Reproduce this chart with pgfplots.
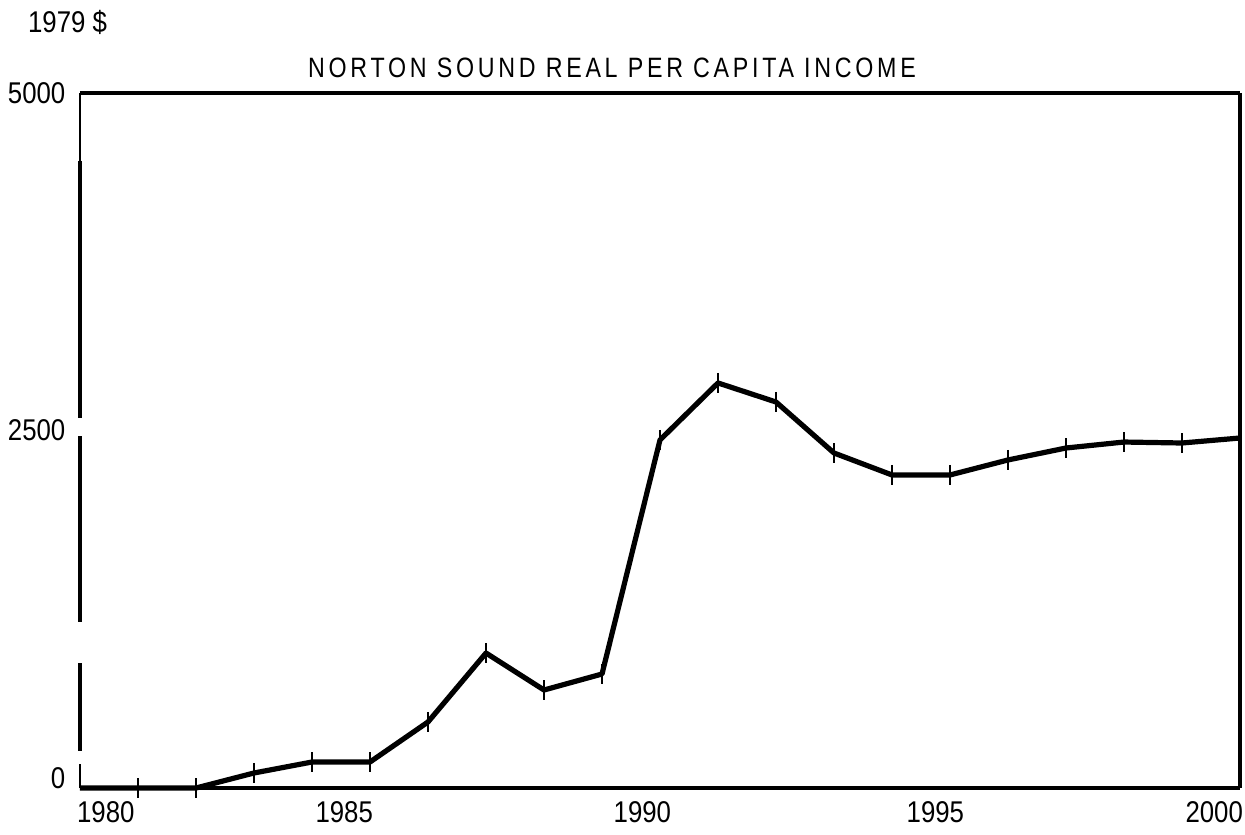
\documentclass[border=0pt]{standalone}
\usepackage{fontspec}
\setmainfont{Liberation Sans}
\newfontfamily\titlefont[LetterSpace=16]{Liberation Sans}
\usepackage{pgfplots}
\pgfplotsset{compat=1.18}

\pgfplotstableread{
year value
1980 0
1981 0
1982 0
1983 108
1984 187
1985 187
1986 475
1987 971
1988 705
1989 820
1990 2504
1991 2914
1992 2777
1993 2410
1994 2252
1995 2252
1996 2360
1997 2446
1998 2489
1999 2482
2000 2518
}\income

\begin{document}
\begin{tikzpicture}
\begin{axis}[
  scale only axis, width=580pt, height=347.5pt,
  xmin=1980, xmax=2000, ymin=0, ymax=5000,
  axis line style={draw=none},
  major tick length=0pt,
  xtick={1980,1985,1990,1995,2000},
  xticklabels={\hspace*{30pt}1980,1985\hspace*{30pt},1990\hspace*{20.5pt},1995\hspace*{17pt},2000\hspace*{30pt}},
  ytick={0,2500,5000},
  yticklabels={\raisebox{10pt}{0},\raisebox{10pt}{2500},5000},
  tick label style={font=\fontsize{15}{16}\selectfont, xscale=0.86},
  xticklabel style={yshift=-3pt},
  yticklabel style={xshift=-5pt},
  clip=false,
]
% frame (scanned look: broken left spine)
\draw[line width=2pt] (rel axis cs:0,1) -- (rel axis cs:1,1);
\draw[line width=1.6pt] (rel axis cs:1,1) -- (rel axis cs:1,0);
\draw[line width=1.6pt] (rel axis cs:0,0) -- (rel axis cs:1,0);
\draw[line width=0.9pt] (axis cs:1980,5000) -- (axis cs:1980,4511);
\draw[line width=1.6pt] (axis cs:1980,4511) -- (axis cs:1980,2662);
\draw[line width=1.6pt] (axis cs:1980,2532) -- (axis cs:1980,1194);
\draw[line width=1.6pt] (axis cs:1980,899) -- (axis cs:1980,266);
\draw[line width=0.9pt] (axis cs:1980,170) -- (axis cs:1980,0);

\addplot[black, line width=2.6pt, line join=round,
  mark=|, mark size=5pt, mark indices={2,...,20},
  mark options={line width=1.3pt}]
  table[x=year, y=value] {\income};

\node[anchor=west, font=\fontsize{15}{16}\selectfont, xscale=0.86]
  at ([xshift=-29pt, yshift=35.5pt]rel axis cs:0,1) {1979 \$};
\node[font=\titlefont\fontsize{14}{16}\selectfont, xscale=0.83]
  at ([xshift=266pt, yshift=12.5pt]rel axis cs:0,1) {NORTON SOUND REAL PER CAPITA INCOME};
\end{axis}
\pgfresetboundingbox
\useasboundingbox ([xshift=-40pt,yshift=-23pt]current axis.south west) rectangle ([xshift=2.5pt,yshift=46.5pt]current axis.north east);
\end{tikzpicture}
\end{document}
